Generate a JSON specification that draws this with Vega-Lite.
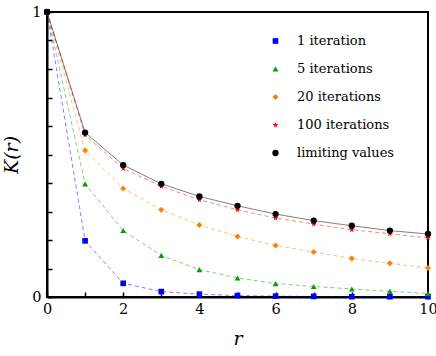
{
  "$schema": "https://vega.github.io/schema/vega-lite/v6.json",
  "width": 381,
  "height": 285,
  "autosize": {"type": "none"},
  "padding": {"left": 47, "top": 12, "right": 8, "bottom": 59},
  "background": "white",
  "config": {
    "view": {"stroke": "black", "strokeWidth": 2},
    "font": "DejaVu Serif",
    "axis": {"labelFont": "DejaVu Serif", "titleFont": "DejaVu Serif", "labelColor": "black", "titleColor": "black", "grid": false, "domainColor": "black", "domainWidth": 2, "tickColor": "black", "tickWidth": 1.5},
    "legend": {"labelFont": "DejaVu Serif", "labelColor": "black"}
  },
  "data": {
    "values": [
      {"r": 0, "K": 1, "s": "1 iteration"},
      {"r": 1, "K": 0.197, "s": "1 iteration"},
      {"r": 2, "K": 0.048, "s": "1 iteration"},
      {"r": 3, "K": 0.019, "s": "1 iteration"},
      {"r": 4, "K": 0.01, "s": "1 iteration"},
      {"r": 5, "K": 0.005, "s": "1 iteration"},
      {"r": 6, "K": 0.003, "s": "1 iteration"},
      {"r": 7, "K": 0.002, "s": "1 iteration"},
      {"r": 8, "K": 0.001, "s": "1 iteration"},
      {"r": 9, "K": 0.001, "s": "1 iteration"},
      {"r": 10, "K": 0.001, "s": "1 iteration"},
      {"r": 0, "K": 1, "s": "5 iterations"},
      {"r": 1, "K": 0.397, "s": "5 iterations"},
      {"r": 2, "K": 0.233, "s": "5 iterations"},
      {"r": 3, "K": 0.146, "s": "5 iterations"},
      {"r": 4, "K": 0.096, "s": "5 iterations"},
      {"r": 5, "K": 0.067, "s": "5 iterations"},
      {"r": 6, "K": 0.047, "s": "5 iterations"},
      {"r": 7, "K": 0.037, "s": "5 iterations"},
      {"r": 8, "K": 0.028, "s": "5 iterations"},
      {"r": 9, "K": 0.02, "s": "5 iterations"},
      {"r": 10, "K": 0.012, "s": "5 iterations"},
      {"r": 0, "K": 1, "s": "20 iterations"},
      {"r": 1, "K": 0.514, "s": "20 iterations"},
      {"r": 2, "K": 0.381, "s": "20 iterations"},
      {"r": 3, "K": 0.306, "s": "20 iterations"},
      {"r": 4, "K": 0.253, "s": "20 iterations"},
      {"r": 5, "K": 0.212, "s": "20 iterations"},
      {"r": 6, "K": 0.181, "s": "20 iterations"},
      {"r": 7, "K": 0.158, "s": "20 iterations"},
      {"r": 8, "K": 0.135, "s": "20 iterations"},
      {"r": 9, "K": 0.118, "s": "20 iterations"},
      {"r": 10, "K": 0.102, "s": "20 iterations"},
      {"r": 0, "K": 1, "s": "100 iterations"},
      {"r": 1, "K": 0.568, "s": "100 iterations"},
      {"r": 2, "K": 0.451, "s": "100 iterations"},
      {"r": 3, "K": 0.388, "s": "100 iterations"},
      {"r": 4, "K": 0.341, "s": "100 iterations"},
      {"r": 5, "K": 0.306, "s": "100 iterations"},
      {"r": 6, "K": 0.277, "s": "100 iterations"},
      {"r": 7, "K": 0.256, "s": "100 iterations"},
      {"r": 8, "K": 0.236, "s": "100 iterations"},
      {"r": 9, "K": 0.222, "s": "100 iterations"},
      {"r": 10, "K": 0.207, "s": "100 iterations"},
      {"r": 0, "K": 1, "s": "limiting values"},
      {"r": 1, "K": 0.577, "s": "limiting values"},
      {"r": 2, "K": 0.463, "s": "limiting values"},
      {"r": 3, "K": 0.397, "s": "limiting values"},
      {"r": 4, "K": 0.353, "s": "limiting values"},
      {"r": 5, "K": 0.32, "s": "limiting values"},
      {"r": 6, "K": 0.291, "s": "limiting values"},
      {"r": 7, "K": 0.268, "s": "limiting values"},
      {"r": 8, "K": 0.25, "s": "limiting values"},
      {"r": 9, "K": 0.233, "s": "limiting values"},
      {"r": 10, "K": 0.221, "s": "limiting values"}
    ]
  },
  "encoding": {
    "x": {
      "field": "r", "type": "quantitative",
      "scale": {"domain": [0, 10], "nice": false},
      "axis": {"title": "r", "titleFontStyle": "italic", "titleFontWeight": "normal", "titleFontSize": 19, "titlePadding": 14,
               "values": [0,1,2,3,4,5,6,7,8,9,10], "labelExpr": "datum.value % 2 == 0 ? datum.label : ''",
               "labelFontSize": 14.5, "tickSize": -5, "labelPadding": 10, "labelFlush": false}
    },
    "y": {
      "field": "K", "type": "quantitative",
      "scale": {"domain": [0, 1], "nice": false},
      "axis": {"title": "K(r)", "titleFontStyle": "italic", "titleFontWeight": "normal", "titleFontSize": 19, "titlePadding": 10,
               "values": [0,0.1,0.2,0.3,0.4,0.5,0.6,0.7,0.8,0.9,1], "labelExpr": "datum.value == 0 ? '0' : (datum.value == 1 ? '1' : '')",
               "labelFontSize": 14.5, "tickSize": -5, "labelPadding": 11, "labelFlush": false}
    },
    "color": {"field": "s", "type": "nominal",
      "scale": {"domain": ["1 iteration", "5 iterations", "20 iterations", "100 iterations", "limiting values"],
                "range": ["#0000ff", "#00a000", "#ff8000", "#ff0000", "#000000"]},
      "legend": {"disable": false, "title": null, "orient": "none", "legendX": 222, "legendY": 21,
                 "labelFont": "DejaVu Serif", "labelFontSize": 13, "labelColor": "black", "rowPadding": 12, "clipHeight": 16, "symbolSize": 40, "labelOffset": 15, "symbolStrokeWidth": 0, "symbolOpacity": 1}}
  },
  "layer": [
    {
      "transform": [{"filter": "datum.s != 'limiting values'"}],
      "mark": {"type": "line", "strokeWidth": 1, "opacity": 0.5, "strokeDash": [4, 3]}
    },
    {
      "transform": [{"filter": "datum.s == 'limiting values'"}],
      "mark": {"type": "line", "strokeWidth": 1, "opacity": 0.5}
    },
    {
      "mark": {"type": "point", "filled": true, "opacity": 1},
      "encoding": {
        "size": {"field": "s", "type": "nominal", "legend": null,
          "scale": {"domain": ["1 iteration", "5 iterations", "20 iterations", "100 iterations", "limiting values"],
                    "range": [32, 40, 40, 75, 40]}},
        "shape": {"field": "s", "type": "nominal",
          "scale": {"domain": ["1 iteration", "5 iterations", "20 iterations", "100 iterations", "limiting values"],
                    "range": ["square", "triangle-up", "diamond", "M0,-1L0.235,-0.324L0.951,-0.309L0.38,0.124L0.588,0.809L0,0.4L-0.588,0.809L-0.38,0.124L-0.951,-0.309L-0.235,-0.324Z", "circle"]},
          "legend": {"disable": false, "title": null, "orient": "none", "legendX": 222, "legendY": 21,
                     "labelFont": "DejaVu Serif", "labelFontSize": 13, "labelColor": "black", "rowPadding": 12, "clipHeight": 16, "symbolSize": 40, "labelOffset": 15, "symbolStrokeWidth": 0, "symbolOpacity": 1}}
      }
    }
  ]
}
